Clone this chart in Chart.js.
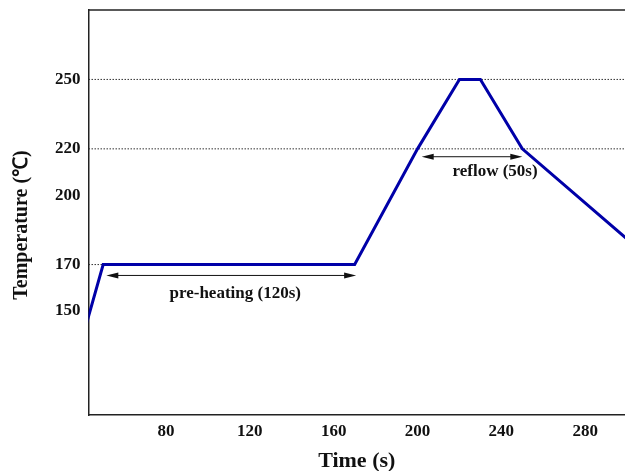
<!DOCTYPE html>
<html>
<head>
<meta charset="utf-8">
<script src="https://cdn.jsdelivr.net/npm/chart.js@4.4.1/dist/chart.umd.min.js"></script>
<style>
html,body{margin:0;padding:0;background:#fff;}
#wrap{width:625px;height:471px;position:relative;}
</style>
</head>
<body>
<div id="wrap"><canvas id="c" width="625" height="471"></canvas></div>
<script>
// Reflow profile
const timeValues = [40, 50, 170, 200, 220, 230, 250, 300];
const tempValues = [138, 170, 170, 220, 250, 250, 220, 181];

// Tick labels
const xTicks = [80, 120, 160, 200, 240, 280];
const yTicks = [150, 170, 200, 220, 250];

// Dotted reference lines: [y, xStart, xEnd]
const refLineY = [250, 220, 170];
const refLineX0 = [43, 43, 43];
const refLineX1 = [300, 300, 50];

// Annotations (arrows + labels)
const arrowLabels = ['pre-heating (120s)', 'reflow (50s)'];
const arrowX0 = [51.5, 202];
const arrowX1 = [170.7, 250];
const arrowY = [165.3, 216.6];
const labelX = [113, 237];
const labelY = [157.5, 210];

const X_MIN = 43, X_MAX = 299, Y_MIN = 105, Y_MAX = 280;
const FONT = '"Liberation Serif", "Times New Roman", serif';

const refDatasets = refLineY.map((y, i) => ({
  data: [{x: refLineX0[i], y: y}, {x: refLineX1[i], y: y}],
  borderColor: '#333',
  borderWidth: 1,
  borderDash: [1.5, 1.5],
  pointRadius: 0,
  order: 2
}));

const annotPlugin = {
  id: 'annot',
  afterDatasetsDraw(chart) {
    const {ctx, scales: {x, y}, chartArea} = chart;
    ctx.save();
    ctx.strokeStyle = '#222';
    ctx.lineWidth = 1.5;
    ctx.beginPath();
    ctx.moveTo(chartArea.left, chartArea.top);
    ctx.lineTo(chartArea.right, chartArea.top);
    ctx.stroke();
    arrowLabels.forEach((lab, i) => {
      const x0 = x.getPixelForValue(arrowX0[i]);
      const x1 = x.getPixelForValue(arrowX1[i]);
      const yy = y.getPixelForValue(arrowY[i]);
      ctx.strokeStyle = '#111';
      ctx.fillStyle = '#111';
      ctx.lineWidth = 1;
      ctx.beginPath();
      ctx.moveTo(x0 + 4, yy);
      ctx.lineTo(x1 - 4, yy);
      ctx.stroke();
      ctx.beginPath();
      ctx.moveTo(x0, yy); ctx.lineTo(x0 + 12, yy - 3); ctx.lineTo(x0 + 12, yy + 3); ctx.closePath(); ctx.fill();
      ctx.beginPath();
      ctx.moveTo(x1, yy); ctx.lineTo(x1 - 12, yy - 3); ctx.lineTo(x1 - 12, yy + 3); ctx.closePath(); ctx.fill();
      ctx.font = 'bold 17px ' + FONT;
      ctx.textAlign = 'center';
      ctx.textBaseline = 'middle';
      ctx.fillText(lab, x.getPixelForValue(labelX[i]), y.getPixelForValue(labelY[i]));
    });
    ctx.restore();
  }
};

new Chart(document.getElementById('c'), {
  type: 'line',
  data: {
    datasets: [{
      data: timeValues.map((t, i) => ({x: t, y: tempValues[i]})),
      borderColor: '#0000A8',
      borderWidth: 3,
      pointRadius: 0,
      tension: 0,
      order: 1
    }, ...refDatasets]
  },
  options: {
    responsive: false,
    animation: false,
    devicePixelRatio: 1,
    layout: {padding: {top: 10, right: 0, left: 0, bottom: 0}},
    plugins: {legend: {display: false}, tooltip: {enabled: false}},
    scales: {
      x: {
        type: 'linear', min: X_MIN, max: X_MAX,
        afterBuildTicks: (s) => { s.ticks = xTicks.map(v => ({value: v})); },
        afterFit: (s) => { s.height = 56; s.paddingLeft = 0; s.paddingRight = 0; },
        grid: {display: false, drawTicks: false},
        border: {display: true, color: '#222', width: 1.5},
        ticks: {color: '#111', font: {family: FONT, size: 17, weight: 'bold'}, padding: 6, maxRotation: 0},
        title: {display: true, text: 'Time (s)', color: '#111', font: {family: FONT, size: 22, weight: 'bold'}, padding: {top: 0, bottom: -4}}
      },
      y: {
        type: 'linear', min: Y_MIN, max: Y_MAX,
        afterBuildTicks: (s) => { s.ticks = yTicks.map(v => ({value: v})); },
        afterFit: (s) => { s.width = 88.5; s.paddingTop = 0; s.paddingBottom = 0; },
        grid: {display: false, drawTicks: false},
        border: {display: true, color: '#222', width: 1.5},
        ticks: {color: '#111', font: {family: FONT, size: 17, weight: 'bold'}, padding: 8},
        title: {display: true, text: 'Temperature (℃)\u00A0\u00A0\u00A0\u00A0\u00A0', color: '#111', font: {family: FONT, size: 20, weight: 'bold'}, padding: {top: 10, bottom: 0}}
      }
    }
  },
  plugins: [annotPlugin]
});
</script>
</body>
</html>
